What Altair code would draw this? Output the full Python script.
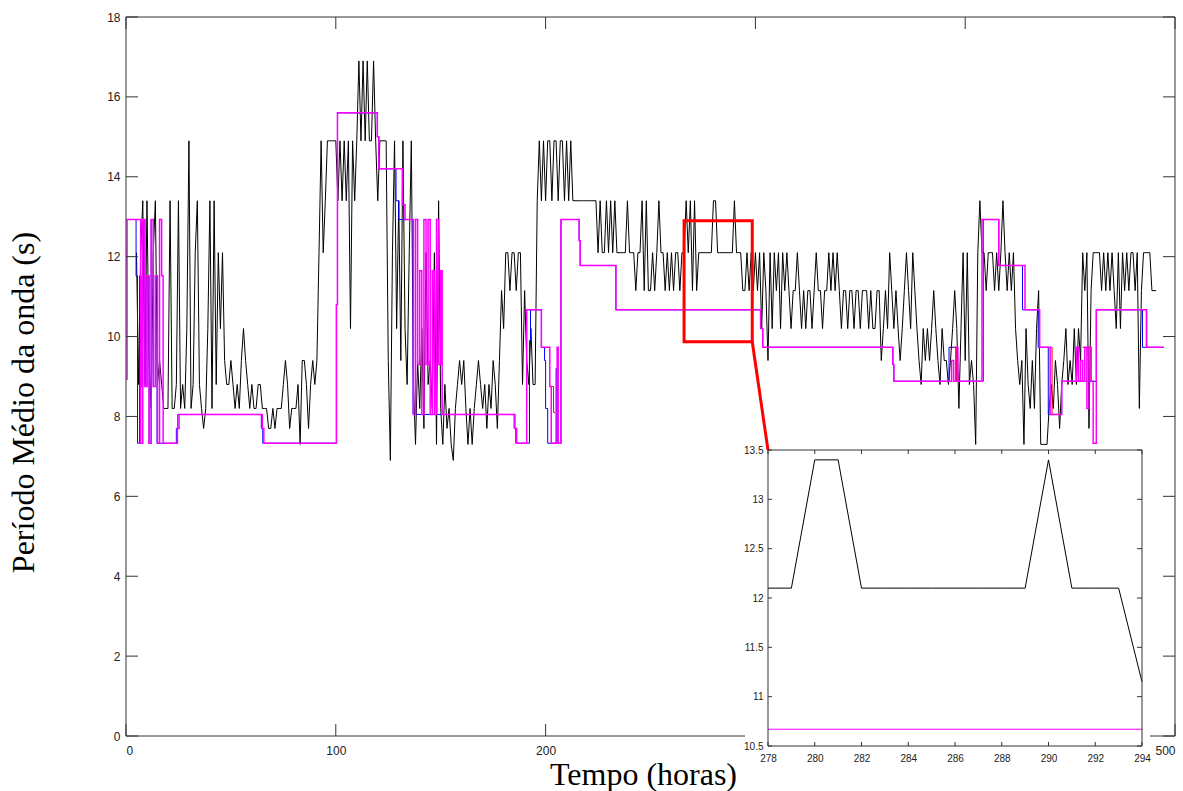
import altair as alt
import pandas as pd

# ---------------- data ----------------
black_start = 5  # first hour with an observed value
black_005_054 = [12.1, 8.8, 12.1, 13.4, 8.8, 13.4, 9.4, 8.2, 12.1, 13.4,
                 8.8, 9.4, 8.8, 8.2, 8.2, 8.2, 13.4, 8.2, 8.2, 8.8,
                 13.4, 8.2, 8.8, 8.2, 10.2, 14.9, 8.2, 8.8, 12.1, 13.4,
                 8.8, 8.2, 7.7, 8.2, 10.2, 13.4, 8.2, 13.4, 8.8, 12.1,
                 10.2, 12.1, 9.4, 8.8, 8.8, 9.4, 8.8, 8.2, 8.8, 8.2]
black_055_104 = [9.4, 10.2, 9.4, 8.8, 8.2, 8.8, 8.2, 8.2, 8.8, 8.8,
                 8.2, 8.2, 8.2, 7.7, 7.7, 8.2, 7.7, 8.2, 8.2, 8.2,
                 8.8, 9.4, 8.8, 7.7, 8.2, 8.2, 8.2, 8.8, 7.3, 9.4,
                 9.4, 8.8, 7.7, 8.8, 9.4, 8.8, 9.4, 12.1, 14.9, 12.1,
                 13.4, 14.9, 14.9, 14.9, 14.9, 14.9, 13.4, 14.9, 13.4, 14.9]
black_105_154 = [13.4, 14.9, 10.2, 14.9, 13.4, 14.9, 16.9, 14.9, 16.9, 14.9,
                 16.9, 14.9, 14.9, 16.9, 14.9, 13.4, 14.9, 14.9, 14.9, 14.9,
                 9.4, 6.9, 12.1, 14.9, 10.2, 13.4, 9.4, 14.9, 10.2, 8.8,
                 12.1, 14.9, 8.8, 7.3, 9.4, 8.2, 10.2, 7.7, 12.1, 8.8,
                 9.4, 8.2, 12.1, 7.3, 13.4, 8.2, 7.3, 8.8, 7.7, 8.2]
black_155_204 = [7.3, 6.9, 8.2, 8.8, 9.4, 8.8, 9.4, 8.2, 7.3, 8.2,
                 7.3, 8.2, 8.8, 9.4, 8.8, 8.2, 8.8, 7.7, 8.8, 8.2,
                 9.4, 8.8, 7.7, 9.4, 11.15, 10.2, 12.1, 12.1, 11.15, 12.1,
                 12.1, 11.15, 12.1, 12.1, 8.8, 11.15, 9.4, 8.8, 10.2, 8.8,
                 8.8, 13.4, 14.9, 13.4, 14.9, 13.4, 14.9, 14.9, 13.4, 14.9]
black_205_254 = [14.9, 13.4, 14.9, 14.9, 13.4, 14.9, 13.4, 14.9, 13.4, 13.4,
                 13.4, 13.4, 13.4, 13.4, 13.4, 13.4, 13.4, 13.4, 13.4, 13.4,
                 12.1, 13.4, 12.1, 12.1, 13.4, 12.1, 13.4, 12.1, 13.4, 12.1,
                 12.1, 12.1, 12.1, 12.1, 13.4, 12.1, 12.1, 12.1, 11.15, 12.1,
                 12.1, 13.4, 11.15, 13.4, 11.15, 11.15, 12.1, 11.15, 12.1, 13.4]
black_255_304 = [12.1, 12.1, 11.15, 12.1, 11.15, 12.1, 11.15, 12.1, 12.1, 11.15,
                 12.1, 12.1, 13.4, 12.1, 13.4, 11.15, 13.4, 11.15, 12.1, 12.1,
                 12.1, 12.1, 12.1, 12.1, 12.1, 13.4, 13.4, 12.1, 12.1, 12.1,
                 12.1, 12.1, 12.1, 12.1, 12.1, 13.4, 12.1, 12.1, 12.1, 11.15,
                 11.15, 12.1, 11.15, 12.1, 11.15, 12.1, 11.15, 12.1, 10.2, 12.1]
black_305_354 = [11.15, 9.4, 12.1, 10.2, 12.1, 11.15, 12.1, 10.2, 12.1, 11.15,
                 12.1, 11.15, 10.2, 11.15, 11.15, 12.1, 11.15, 10.2, 11.15, 10.2,
                 11.15, 11.15, 10.2, 11.15, 12.1, 11.15, 11.15, 10.2, 11.15, 11.15,
                 12.1, 11.15, 12.1, 11.15, 12.1, 11.15, 10.2, 11.15, 11.15, 10.2,
                 11.15, 11.15, 10.2, 11.15, 11.15, 10.2, 11.15, 11.15, 11.15, 10.2]
black_355_404 = [11.15, 10.2, 10.2, 11.15, 11.15, 9.4, 10.2, 11.15, 10.2, 12.1,
                 11.15, 10.2, 11.15, 10.2, 9.4, 10.2, 11.15, 12.1, 11.15, 10.2,
                 12.1, 11.15, 10.2, 9.4, 8.8, 10.2, 9.4, 10.2, 9.4, 10.2,
                 11.15, 10.2, 9.4, 8.8, 10.2, 9.4, 9.4, 8.8, 9.4, 10.2,
                 11.15, 10.2, 8.2, 10.2, 12.1, 9.4, 12.1, 8.8, 9.4, 8.8]
black_405_454 = [7.3, 12.1, 13.4, 12.1, 12.1, 11.15, 12.1, 12.1, 12.1, 11.15,
                 12.1, 11.15, 12.1, 13.4, 12.1, 11.15, 12.1, 11.15, 12.1, 10.2,
                 9.4, 8.8, 9.4, 7.3, 10.2, 8.8, 8.2, 9.4, 8.2, 10.2,
                 11.15, 7.3, 7.3, 7.3, 7.3, 8.2, 8.8, 8.2, 9.4, 8.8,
                 7.7, 8.8, 9.4, 10.2, 8.8, 9.4, 8.8, 10.2, 8.8, 10.2]
black_455_491 = [9.4, 12.1, 11.15, 12.1, 7.7, 11.15, 12.1, 12.1, 12.1, 12.1,
                 11.15, 12.1, 11.15, 12.1, 11.15, 12.1, 11.15, 10.2, 12.1, 10.2,
                 12.1, 11.15, 12.1, 11.15, 12.1, 12.1, 11.15, 12.1, 8.2, 11.15,
                 12.1, 12.1, 12.1, 12.1, 11.15, 11.15, 11.15]

magenta_hours = [0, 0.5, 7, 8, 9, 10, 11, 12, 13, 14, 15, 16, 17, 17.7,
                 24.5, 25.3, 65, 65.7, 100.3, 100.8, 119.8, 120.5, 131.7, 133,
                 137, 138, 139, 140, 141, 142, 143, 144, 145, 146, 147, 148, 149, 150,
                 150.7, 185.4, 186.2, 191, 198, 202, 202.7, 205.5, 206, 207.3,
                 216, 216.5, 233.5, 302.5, 303.5, 365.5, 366,
                 393.5, 394.5, 395.5, 396.5, 408, 416, 428.5, 435.5, 440.5, 446,
                 453, 454, 455, 456, 457, 458, 459, 460, 461, 462.5, 486.5, 494.7]
magenta_values = [8.94, 12.93, 7.33, 12.93, 8.75, 11.52, 7.33, 12.93, 8.75, 11.52, 7.33, 12.93, 11.52, 7.33,
                  7.7, 8.05, 7.7, 7.33, 10.8, 15.6, 15.0, 14.2, 13.3, 12.93,
                  8.05, 12.93, 9.3, 11.65, 8.05, 12.93, 9.3, 12.93, 8.05, 11.65, 8.05, 12.93, 9.3, 11.65,
                  8.05, 7.7, 7.33, 10.67, 9.73, 8.75, 7.33, 9.73, 7.33, 12.93,
                  12.4, 11.78, 10.67, 10.2, 9.73, 9.3, 8.88,
                  9.4, 8.88, 9.73, 8.88, 12.93, 11.78, 10.67, 9.73, 8.05, 8.88,
                  9.73, 8.88, 9.4, 8.88, 9.73, 8.2, 9.73, 8.88, 7.33, 10.67, 9.73, 9.73]

blue_hours = [0.5, 4.8, 5.5, 6.5, 7.2, 8, 9, 10, 11, 12, 13, 14, 14.8,
              24, 24.7, 64.5, 65.2, 100.3, 100.8, 119.8, 120.5, 128.7, 130, 136.8,
              185, 185.8, 192.3, 192.8, 198, 199.5, 200, 201, 205, 205.5, 207.3,
              216, 216.5, 233.5, 302.5, 303.5, 365.5, 366, 392.3, 396, 408.6,
              416, 427.3, 434.8, 439.6, 446, 462.5, 484.5, 494.7]
blue_values = [12.93, 11.52, 7.33, 11.52, 8.75, 12.93, 8.75, 11.52, 7.33, 12.93, 8.75, 11.52, 7.33,
               7.7, 8.05, 7.7, 7.33, 10.8, 15.6, 15.0, 14.2, 13.4, 12.93, 8.05,
               7.7, 7.33, 9.9, 10.67, 9.73, 9.4, 8.2, 7.33, 9.2, 7.33, 12.93,
               12.4, 11.78, 10.67, 10.2, 9.73, 9.3, 8.88, 9.73, 8.88, 12.93,
               11.78, 10.67, 9.73, 8.05, 8.88, 10.67, 9.73, 9.73]

red_hours = [203, 203.8, 204.5, 394, 395.8, 396.5, 439.5, 441.4, 445, 456, 460, 461]
red_values = [8.75, 8.1, 8.1, 9.73, 8.88, 8.88, 9.73, 8.05, 8.05, 9.73, 8.88, 8.88]
red_segment = [1, 1, 1, 2, 2, 2, 3, 3, 3, 4, 4, 4]

green_hours = [484.8, 486.2, 487]
green_values = [10.67, 9.73, 9.73]

x_domain = [0, 500]
y_domain = [0, 18]
x_ticks = [0, 100, 200, 300, 400, 500]
x_tick_labels = [0, 100, 200, 300, 500]  # the label of 400 sits fully under the inset
y_ticks = [0, 2, 4, 6, 8, 10, 12, 14, 16, 18]

# zoom window drawn on the main plot and the inset that enlarges it
zoom_box_x = [266, 298.5]
zoom_box_y = [9.87, 12.9]
connector_x = [298.5, 306]
connector_y = [9.87, 7.16]

inset_x_domain = [278, 294]
inset_y_domain = [10.5, 13.5]
inset_x_ticks = [278, 280, 282, 284, 286, 288, 290, 292, 294]
inset_y_ticks = [10.5, 11, 11.5, 12, 12.5, 13, 13.5]
inset_magenta_hours = [278, 294]
inset_magenta_values = [10.67, 10.67]

# ---------------- tables ----------------
black_values = (black_005_054 + black_055_104 + black_105_154 + black_155_204 +
                black_205_254 + black_255_304 + black_305_354 + black_355_404 +
                black_405_454 + black_455_491)
black_df = pd.DataFrame({"hora": list(range(black_start, black_start + len(black_values))),
                         "periodo": black_values})
magenta_df = pd.DataFrame({"hora": magenta_hours, "periodo": magenta_values})
blue_df = pd.DataFrame({"hora": blue_hours, "periodo": blue_values})
red_df = pd.DataFrame({"hora": red_hours, "periodo": red_values, "seg": red_segment})
green_df = pd.DataFrame({"hora": green_hours, "periodo": green_values})
frame_df = pd.DataFrame({"x0": [x_domain[0]], "x1": [x_domain[1]], "y0": [y_domain[0]], "y1": [y_domain[1]]})
box_df = pd.DataFrame({"x0": [zoom_box_x[0]], "x1": [zoom_box_x[1]], "y0": [zoom_box_y[0]], "y1": [zoom_box_y[1]]})
conn_df = pd.DataFrame({"x0": [connector_x[0]], "x1": [connector_x[1]], "y0": [connector_y[0]], "y1": [connector_y[1]]})
xt_df = pd.DataFrame({"x0": x_ticks})
yt_df = pd.DataFrame({"y0": y_ticks})
inset_frame_df = pd.DataFrame({"x0": [inset_x_domain[0]], "x1": [inset_x_domain[1]],
                               "y0": [inset_y_domain[0]], "y1": [inset_y_domain[1]]})
inset_mag_df = pd.DataFrame({"hora": inset_magenta_hours, "periodo": inset_magenta_values})
ixt_df = pd.DataFrame({"x0": inset_x_ticks})
iyt_df = pd.DataFrame({"y0": inset_y_ticks})
one_row = pd.DataFrame({"a": [0]})

# ---------------- layout ----------------
W, H = 1049, 719
IN_L, IN_R, IN_T, IN_B = 642, 1016, 433, 729
LABEL_FONT = "Liberation Sans"
TITLE_FONT = "Liberation Serif"
FRAME = "#333333"

xs = alt.Scale(domain=x_domain, nice=False, zero=False)
ys = alt.Scale(domain=y_domain, nice=False, zero=False)
xi = alt.Scale(domain=inset_x_domain, range=[IN_L, IN_R], nice=False, zero=False)
yi = alt.Scale(domain=inset_y_domain, range=[IN_B, IN_T], nice=False, zero=False)

x_axis = alt.Axis(values=x_tick_labels, title="Tempo (horas)", domain=False, ticks=False, grid=False,
                  labelFont=LABEL_FONT, labelFontSize=12, labelColor="#222222", labelPadding=9,
                  titleFont=TITLE_FONT, titleFontSize=32, titleFontWeight="normal", titleColor="#000000",
                  titleX=517, titleY=48, titleAlign="center", titleBaseline="alphabetic", zindex=0)
y_axis = alt.Axis(values=y_ticks, title="Período Médio da onda (s)", domain=False, ticks=False, grid=False,
                  labelFont=LABEL_FONT, labelFontSize=12, labelColor="#222222", labelPadding=6,
                  titleFont=TITLE_FONT, titleFontSize=32, titleFontWeight="normal", titleColor="#000000",
                  titleAngle=270, titleX=-93, titleY=385, titleAlign="center", titleBaseline="alphabetic",
                  zindex=0)
ix_axis = alt.Axis(values=inset_x_ticks, orient="bottom", offset=IN_B - H, title=None,
                   domain=False, ticks=False, grid=False, labelFont=LABEL_FONT, labelFontSize=10,
                   labelColor="#222222", labelPadding=7, labelFlush=False, zindex=1)
iy_axis = alt.Axis(values=inset_y_ticks, orient="left", offset=-IN_L, title=None,
                   domain=False, ticks=False, grid=False, labelFont=LABEL_FONT, labelFontSize=10,
                   labelColor="#222222", labelPadding=5, labelExpr="'' + datum.value", zindex=1)


# every child of a layer gets the same axis definition so the merged axis stays enabled
def mx(field):
    return alt.X(field, scale=xs, axis=x_axis)


def my(field):
    return alt.Y(field, scale=ys, axis=y_axis)


def ix(field):
    return alt.X(field, scale=xi, axis=ix_axis)


def iy(field):
    return alt.Y(field, scale=yi, axis=iy_axis)


black = alt.Chart(black_df).mark_line(color="#000000", strokeWidth=1).encode(
    x=mx("hora:Q"), y=my("periodo:Q"))


def step_line(df, color, width, detail=None):
    enc = dict(x=mx("hora:Q"), y=my("periodo:Q"))
    if detail:
        enc["detail"] = detail
    return alt.Chart(df).mark_line(color=color, strokeWidth=width, interpolate="step-after").encode(**enc)


blue = step_line(blue_df, "#0000ff", 1)
red = step_line(red_df, "#ff0000", 1, "seg:N")
green = step_line(green_df, "#00ff00", 1)
magenta = step_line(magenta_df, "#ff00ff", 1.5)

frame = alt.Chart(frame_df).mark_rect(fillOpacity=0, stroke=FRAME, strokeWidth=1).encode(
    x=mx("x0:Q"), x2="x1:Q", y=my("y0:Q"), y2="y1:Q")

tick_b = alt.Chart(xt_df).mark_rule(color=FRAME).encode(
    x=mx("x0:Q"), y=alt.value(H), y2=alt.value(H - 12))
tick_t = alt.Chart(xt_df).mark_rule(color=FRAME).encode(
    x=mx("x0:Q"), y=alt.value(0), y2=alt.value(12))
tick_l = alt.Chart(yt_df).mark_rule(color=FRAME).encode(
    y=my("y0:Q"), x=alt.value(0), x2=alt.value(12))
tick_r = alt.Chart(yt_df).mark_rule(color=FRAME).encode(
    y=my("y0:Q"), x=alt.value(W), x2=alt.value(W - 12))

zoom_box = alt.Chart(box_df).mark_rect(fillOpacity=0, stroke="#ff0000", strokeWidth=3).encode(
    x=mx("x0:Q"), x2="x1:Q", y=my("y0:Q"), y2="y1:Q")
connector = alt.Chart(conn_df).mark_rule(color="#ff0000", strokeWidth=3).encode(
    x=mx("x0:Q"), x2="x1:Q", y=my("y0:Q"), y2="y1:Q")

main = alt.layer(black, blue, red, green, magenta, frame, tick_b, tick_t, tick_l, tick_r,
                 zoom_box, connector)

# ---------------- inset ----------------
white_bg = alt.Chart(one_row).mark_rect(fill="#ffffff").encode(
    x=alt.value(IN_L - 23), x2=alt.value(IN_R + 8), y=alt.value(IN_T), y2=alt.value(H + 60))

inset_black = alt.Chart(black_df).mark_line(color="#000000", strokeWidth=1).encode(
    x=ix("hora:Q"), y=iy("periodo:Q")).transform_filter(
    (alt.datum.hora >= inset_x_domain[0]) & (alt.datum.hora <= inset_x_domain[1]))
inset_mag = alt.Chart(inset_mag_df).mark_line(color="#ff00ff", strokeWidth=1).encode(
    x=ix("hora:Q"), y=iy("periodo:Q"))
inset_frame = alt.Chart(inset_frame_df).mark_rect(fillOpacity=0, stroke=FRAME, strokeWidth=1).encode(
    x=ix("x0:Q"), x2="x1:Q", y=iy("y0:Q"), y2="y1:Q")
itick_b = alt.Chart(ixt_df).mark_rule(color=FRAME).encode(
    x=ix("x0:Q"), y=alt.value(IN_B), y2=alt.value(IN_B - 4))
itick_t = alt.Chart(ixt_df).mark_rule(color=FRAME).encode(
    x=ix("x0:Q"), y=alt.value(IN_T), y2=alt.value(IN_T + 4))
itick_l = alt.Chart(iyt_df).mark_rule(color=FRAME).encode(
    y=iy("y0:Q"), x=alt.value(IN_L), x2=alt.value(IN_L + 4))
itick_r = alt.Chart(iyt_df).mark_rule(color=FRAME).encode(
    y=iy("y0:Q"), x=alt.value(IN_R), x2=alt.value(IN_R - 5))

inset = alt.layer(white_bg, inset_black, inset_mag, inset_frame, itick_b, itick_t, itick_l, itick_r)

chart = alt.layer(main, inset).resolve_scale(x="independent", y="independent").properties(
    width=W, height=H,
    autosize=alt.AutoSizeParams(type="none"),
    padding={"left": 126, "top": 17, "right": 8, "bottom": 55},
    background="#ffffff",
).configure_view(stroke=None)

chart.save("out.html", embed_options={"renderer": "svg", "actions": False})
